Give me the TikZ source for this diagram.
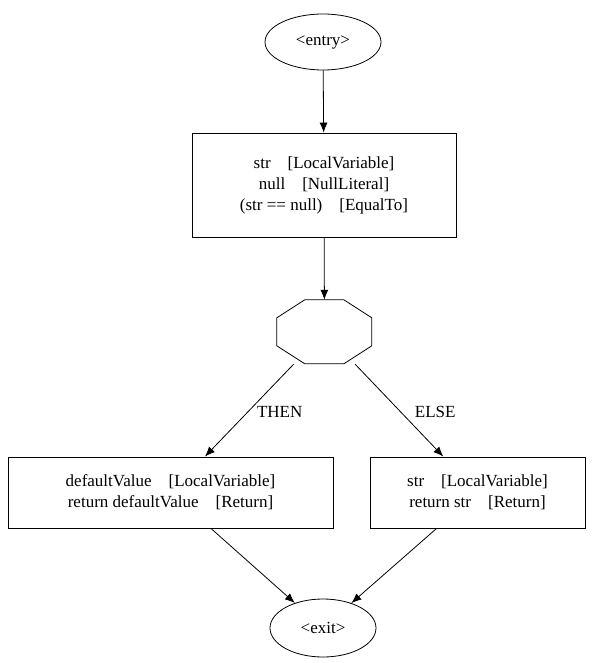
\documentclass[tikz,border=0pt]{standalone}
\usepackage{fontspec}
\setmainfont{Liberation Serif}
\usetikzlibrary{arrows.meta,shapes.geometric}
\begin{document}
\begin{tikzpicture}[x=1pt,y=-1pt,
  every node/.style={font=\fontsize{17}{21}\selectfont},
  blk/.style={draw,thick,align=center,inner sep=0pt},
  ell/.style={draw,thick,ellipse,inner sep=0pt},
  edge/.style={thick,-{Latex[length=10pt,width=8pt]}}]
\useasboundingbox (0,0) rectangle (600,663);
\node[ell,minimum width=116,minimum height=56] (entry) at (323,42) {<entry>};
\node[blk,minimum width=264,minimum height=104] (cond) at (324,185)
  {str\quad[LocalVariable]\\ null\quad[NullLiteral]\\ (str == null)\quad[EqualTo]};
\node[minimum width=95,minimum height=64,inner sep=0pt] (br) at (324.5,332) {};
\draw[thick] (br.north west) ++(28,0) -- ++(39,0) -- ++(28,18) -- ++(0,28)
  -- ++(-28,18) -- ++(-39,0) -- ++(-28,-18) -- ++(0,-28) -- cycle;
\node[blk,minimum width=325,minimum height=71] (then) at (170.5,492.5)
  {defaultValue\quad[LocalVariable]\\ return defaultValue\quad[Return]};
\node[blk,minimum width=215,minimum height=71] (else) at (477.5,492.5)
  {str\quad[LocalVariable]\\ return str\quad[Return]};
\node[ell,minimum width=106,minimum height=58] (exit) at (323,628) {<exit>};
\draw[edge] (entry) -- (cond);
\draw[edge] (cond) -- (br);
\draw[edge] (br) -- node[right,xshift=4pt,yshift=-2pt] {THEN} (then);
\draw[edge] (br) -- node[right,xshift=12pt,yshift=-2pt] {ELSE} (else);
\draw[edge] (then) -- (exit);
\draw[edge] (else) -- (exit);
\end{tikzpicture}
\end{document}
